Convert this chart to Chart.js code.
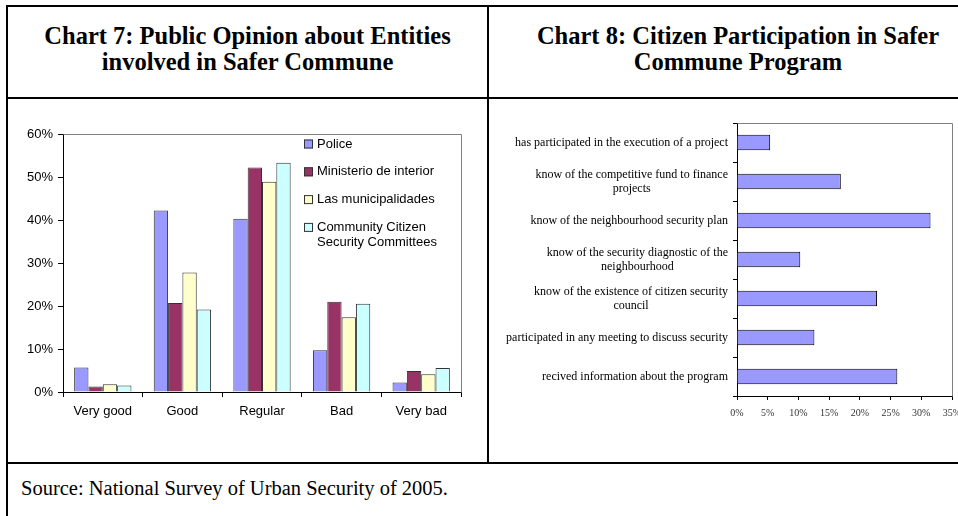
<!DOCTYPE html>
<html>
<head>
<meta charset="utf-8">
<script src="https://cdn.jsdelivr.net/npm/chart.js@4/dist/chart.umd.min.js"></script>
<style>
  html, body { margin:0; padding:0; background:#fff; overflow:hidden; }
  #page { position:relative; width:958px; height:516px; overflow:hidden; }
  .ln { position:absolute; background:#000; }
  .title { position:absolute; top:23px; font:bold 24.5px/25.5px "Liberation Serif", "Times New Roman", serif; color:#000; text-align:center; white-space:nowrap; }
  #src { position:absolute; left:21px; top:477px; font:20.5px "Liberation Serif", "Times New Roman", serif; color:#000; white-space:nowrap; }
  canvas { position:absolute; }
</style>
</head>
<body>
<div id="page">
  <div class="ln" style="left:6px; top:5px; width:990px; height:2px"></div>
  <div class="ln" style="left:6px; top:5px; width:2px; height:520px"></div>
  <div class="ln" style="left:6px; top:97px; width:990px; height:2px"></div>
  <div class="ln" style="left:6px; top:462px; width:990px; height:2px"></div>
  <div class="ln" style="left:487px; top:5px; width:2px; height:459px"></div>

  <div class="title" style="left:8px; width:479px">Chart 7: Public Opinion about Entities<br>involved in Safer Commune</div>
  <div class="title" style="left:489px; width:498px">Chart 8: Citizen Participation in Safer<br>Commune Program</div>

  <canvas id="chart7" width="477" height="361" style="left:9px; top:100px"></canvas>
  <canvas id="chart8" width="490" height="361" style="left:490px; top:100px"></canvas>

  <div id="src">Source: National Survey of Urban Security of 2005.</div>
</div>

<script>
// Chart 7 - opinion sobre entidades (%)
const categorias7 = ["Very good", "Good", "Regular", "Bad", "Very bad"];
const entidades = ["Police", "Ministerio de interior", "Las municipalidades", "Community Citizen Security Committees"];
const police = [5.7, 42.2, 40.3, 9.7, 2.2];
const ministerio = [1.3, 20.7, 52.2, 21.0, 4.9];
const municipalidades = [1.8, 27.8, 48.9, 17.4, 4.1];
const comites = [1.5, 19.2, 53.3, 20.5, 5.6];
const cores7 = ["#9999FF", "#993366", "#FFFFCC", "#CCFFFF"];

// Chart 8 - participacion ciudadana (%)
const itens8 = [
  "has participated in the execution of a project",
  ["know of the competitive fund to finance", "projects"],
  "know of the neighbourhood security plan",
  ["know of the security diagnostic of the", "neighbourhood"],
  ["know of the existence of citizen security", "council"],
  "participated in any meeting to discuss security",
  "recived information about the program"
];
const participacao = [5.4, 16.9, 31.5, 10.3, 22.8, 12.6, 26.1];

// borda cinza em cima e na direita da area do grafico
const bordaArea = {
  id: 'bordaArea',
  afterDraw(chart){
    const a = chart.chartArea, c = chart.ctx;
    c.save();
    c.strokeStyle = '#808080';
    c.lineWidth = 1;
    c.beginPath();
    c.moveTo(Math.round(a.left) + 0.5, Math.round(a.top) + 0.5);
    c.lineTo(Math.round(a.right) + 0.5, Math.round(a.top) + 0.5);
    c.lineTo(Math.round(a.right) + 0.5, Math.round(a.bottom) + 0.5);
    c.stroke();
    c.restore();
  }
};

// legenda dentro do grafico 7
const legenda7 = {
  id: 'legenda7',
  afterDraw(chart){
    const a = chart.chartArea, c = chart.ctx;
    c.save();
    c.font = '13px "Liberation Sans", Arial, sans-serif';
    c.textBaseline = 'middle';
    chart.data.datasets.forEach((ds, i) => {
      const y = a.top + 10 + i * 27.8;
      const bx = a.left + 241;
      c.fillStyle = ds.backgroundColor;
      c.fillRect(bx, y - 4.5, 9, 9);
      c.strokeStyle = '#333';
      c.lineWidth = 1;
      c.strokeRect(bx + 0.5, y - 4, 8, 8);
      c.fillStyle = '#000';
      const linhas = ds.label === entidades[3] ? ["Community Citizen", "Security Committees"] : [ds.label];
      linhas.forEach((t, k) => c.fillText(t, bx + 13, y + k * 14.6));
    });
    c.restore();
  }
};

// rotulos do eixo y do grafico 8: bloco alinhado a direita, linhas centralizadas
const rotulos8 = {
  id: 'rotulos8',
  afterDraw(chart){
    const s = chart.scales.y, c = chart.ctx;
    c.save();
    c.font = '12px "Liberation Serif", "Times New Roman", serif';
    c.fillStyle = '#000';
    c.textAlign = 'center';
    c.textBaseline = 'middle';
    const lh = 14.3;
    chart.data.labels.forEach((lab, i) => {
      const linhas = Array.isArray(lab) ? lab : [lab];
      const w = Math.max(...linhas.map(t => c.measureText(t).width));
      const cx = s.right - 9 - w / 2;
      const cy = s.getPixelForValue(i);
      linhas.forEach((t, k) => c.fillText(t, cx, cy + (k - (linhas.length - 1) / 2) * lh));
    });
    c.restore();
  }
};

let chart7, chart8;

function renderCharts(){
  const arial = { family: '"Liberation Sans", Arial, sans-serif', size: 13 };
  const series7 = [police, ministerio, municipalidades, comites];

  chart7 = new Chart(document.getElementById('chart7'), {
    type: 'bar',
    data: {
      labels: categorias7,
      datasets: series7.map((d, i) => ({
        label: entidades[i], data: d,
        backgroundColor: cores7[i], borderColor: '#333', borderWidth: 1
      }))
    },
    options: {
      responsive: false, animation: false,
      layout: { padding: { top: 34, right: 25, bottom: 0, left: 0 } },
      datasets: { bar: { barPercentage: 1, categoryPercentage: 0.72 } },
      plugins: { legend: { display: false }, tooltip: { enabled: false } },
      scales: {
        x: {
          grid: { offset: true, drawOnChartArea: false, tickLength: 5, color: '#000' },
          border: { color: '#000' },
          ticks: { font: arial, color: '#000', padding: 7 },
          afterFit(s){ s.height = 69; }
        },
        y: {
          min: 0, max: 60,
          grid: { drawOnChartArea: false, tickLength: 5, color: '#000' },
          border: { color: '#000' },
          ticks: { stepSize: 10, font: arial, color: '#000', padding: 5, callback: v => v + '%' },
          afterFit(s){ s.width = 54; }
        }
      }
    },
    plugins: [bordaArea, legenda7]
  });

  chart8 = new Chart(document.getElementById('chart8'), {
    type: 'bar',
    data: {
      labels: itens8,
      datasets: [{ label: 'Participation', data: participacao, backgroundColor: '#9999FF', borderColor: '#000', borderWidth: 1 }]
    },
    options: {
      indexAxis: 'y',
      responsive: false, animation: false,
      layout: { padding: { top: 23, right: 28, bottom: 0, left: 0 } },
      datasets: { bar: { barPercentage: 1, categoryPercentage: 0.4 } },
      plugins: { legend: { display: false }, tooltip: { enabled: false } },
      scales: {
        x: {
          min: 0, max: 35,
          grid: { drawOnChartArea: false, tickLength: 4, color: '#000' },
          border: { color: '#000' },
          ticks: { stepSize: 5, font: { family: '"Liberation Serif", "Times New Roman", serif', size: 10 }, color: '#333', padding: 7, maxRotation: 0, callback: v => v + '%' },
          afterFit(s){ s.height = 65; }
        },
        y: {
          grid: { offset: true, drawOnChartArea: false, tickLength: 4, color: '#000' },
          border: { color: '#000' },
          ticks: { color: 'rgba(0,0,0,0)' },
          afterFit(s){ s.width = 247; }
        }
      }
    },
    plugins: [bordaArea, rotulos8]
  });
}

document.addEventListener('DOMContentLoaded', renderCharts);
</script>
</body>
</html>
